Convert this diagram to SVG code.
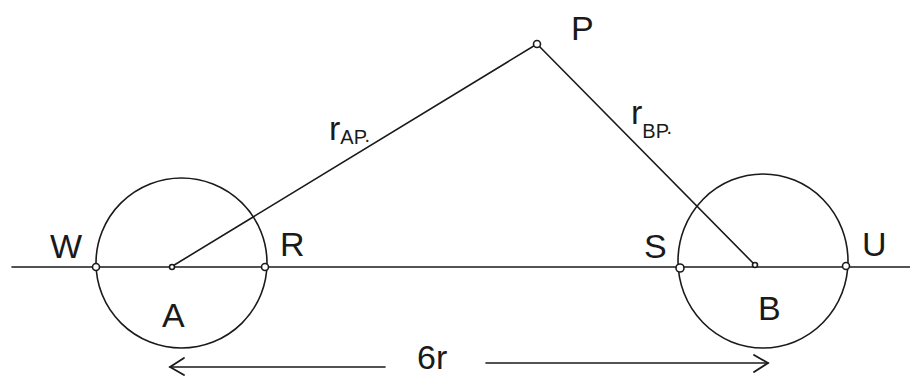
<svg xmlns="http://www.w3.org/2000/svg" width="910" height="381" viewBox="0 0 910 381">
<style>
  .ln{fill:none;stroke:#1a1a1a;stroke-width:1.6;stroke-linecap:round}
  .pt{fill:#fff;stroke:#1a1a1a;stroke-width:1.6}
  .lb{font-family:"Liberation Sans","DejaVu Sans",sans-serif;fill:#1a1a1a;font-size:34px}
  .sub{font-size:20px}
</style>
<defs>
  <marker id="open" viewBox="0 0 20 20" refX="18" refY="10" markerWidth="20" markerHeight="20" markerUnits="userSpaceOnUse" orient="auto-start-reverse">
    <path d="M4 2 L18 10 L4 19" fill="none" stroke="#1a1a1a" stroke-width="1.8" stroke-linecap="round"/>
  </marker>
</defs>
<rect width="910" height="381" fill="#fff"/>
<g id="connectors">
  <line class="ln" x1="12" y1="267" x2="910" y2="267"/>
  <line class="ln" x1="171" y1="267" x2="537" y2="44"/>
  <line class="ln" x1="537" y1="44" x2="755" y2="265"/>
  <line class="ln" x1="385" y1="367" x2="170" y2="367" marker-end="url(#open)"/>
  <line class="ln" x1="486" y1="363" x2="768" y2="363" marker-end="url(#open)"/>
</g>
<g id="circleA"><ellipse class="ln" cx="181.5" cy="263" rx="85.5" ry="85"/></g>
<g id="circleB"><ellipse class="ln" cx="763" cy="261" rx="85" ry="87"/></g>
<g id="nodeP">
  <circle class="pt" cx="537" cy="44" r="3.5"/>
  <text class="lb" x="571" y="40">P</text>
</g>
<g id="nodeA">
  <circle class="pt" cx="172" cy="267" r="2.5"/>
  <text class="lb" x="162" y="327">A</text>
</g>
<g id="nodeB">
  <circle class="pt" cx="755" cy="265" r="2.5"/>
  <text class="lb" x="758" y="320">B</text>
</g>
<g id="nodeW">
  <circle class="pt" cx="96" cy="267" r="3.5"/>
  <text class="lb" x="50" y="258">W</text>
</g>
<g id="nodeR">
  <circle class="pt" cx="265" cy="267" r="3.5"/>
  <text class="lb" x="280" y="256">R</text>
</g>
<g id="nodeS">
  <circle class="pt" cx="680" cy="268" r="4"/>
  <text class="lb" x="644" y="258">S</text>
</g>
<g id="nodeU">
  <circle class="pt" cx="846" cy="266" r="3.5"/>
  <text class="lb" x="862" y="256">U</text>
</g>
<g id="labels">
  <text class="lb" x="329" y="140">r<tspan class="sub" dy="4">AP</tspan><tspan class="sub" dy="-2">.</tspan></text>
  <text class="lb" x="631" y="124">r<tspan class="sub" dy="14">BP</tspan><tspan class="sub" dy="-4">.</tspan></text>
  <text class="lb" x="417" y="369">6r</text>
</g>
</svg>
